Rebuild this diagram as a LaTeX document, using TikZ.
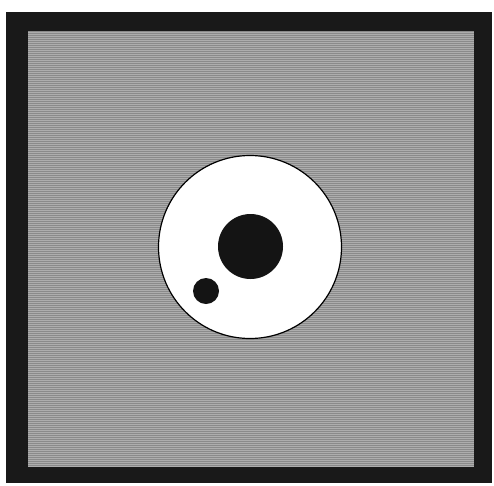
\documentclass[tikz,border=0pt]{standalone}
\begin{document}
\begin{tikzpicture}[x=1pt,y=-1pt,
  frame/.style={fill=black!90},
  panel/.style={fill=black!46},
  streak/.style={line width=0.8pt,draw=white,opacity=0.3},
  hole/.style={fill=white,draw=black,line width=1.2pt},
  dot/.style={fill=black!92}]
\useasboundingbox (0,0) rectangle (494,485);
\fill[white] (0,0) rectangle (494,485);
\path[frame] (6,12) rectangle (492,483);
\path[panel] (28,31) rectangle (474,467);
\begin{scope}
\clip (28,31) rectangle (474,467);
\foreach \i in {0,...,217}{
  \pgfmathsetmacro{\yy}{32+2*\i}
  \draw[streak] (28,\yy) -- (474,\yy);
}
\end{scope}
\node[circle,hole,minimum size=183pt,inner sep=0pt] (ring) at (250,247) {};
\node[circle,dot,minimum size=65pt,inner sep=0pt] (big) at (250.5,246.5) {};
\node[circle,dot,minimum size=26pt,inner sep=0pt] (small) at (206,291) {};
\end{tikzpicture}
\end{document}
